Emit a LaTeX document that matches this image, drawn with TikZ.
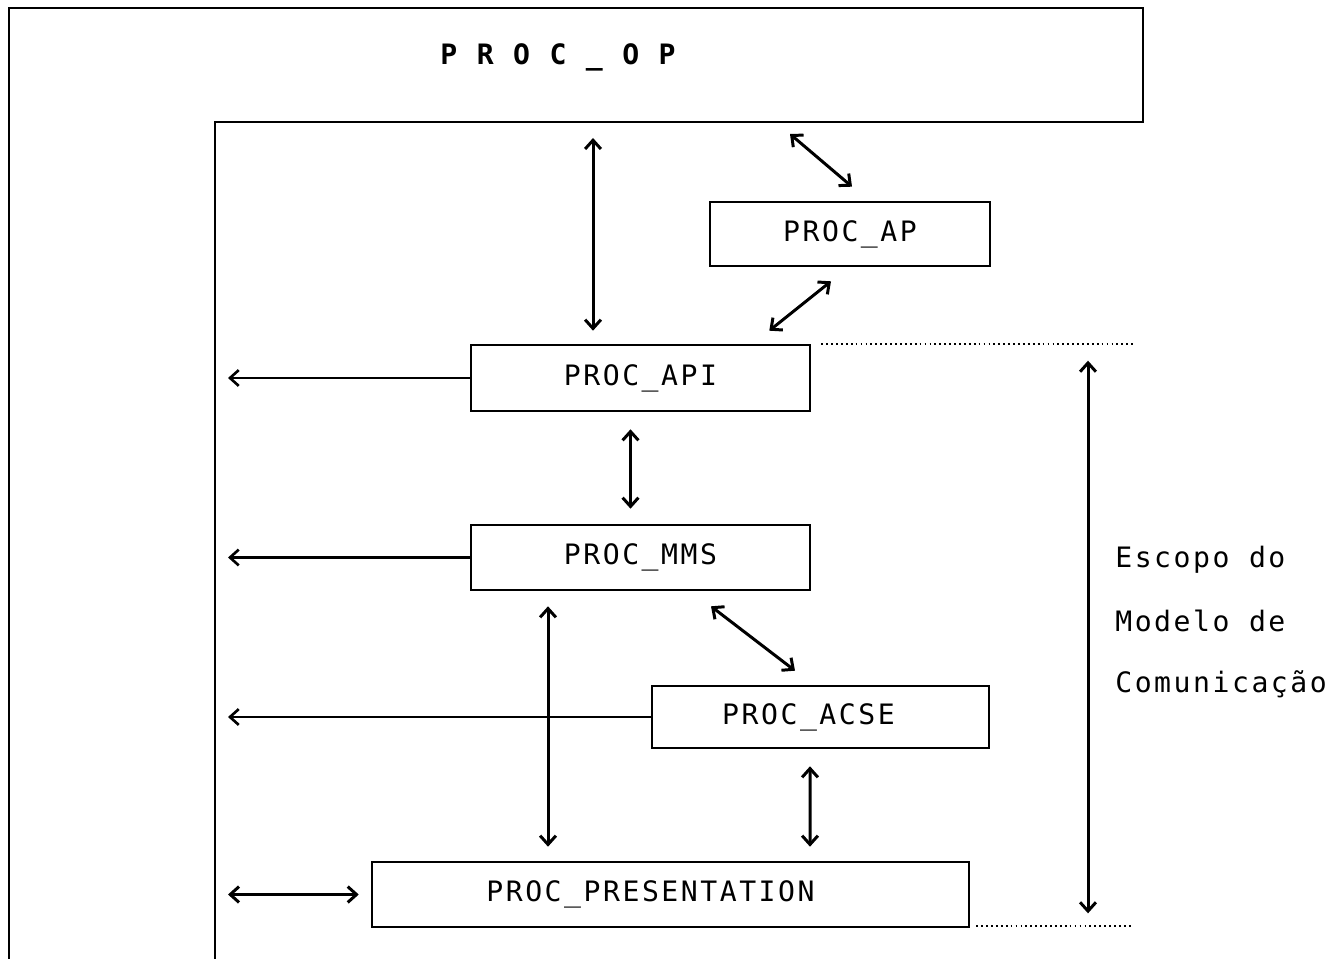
\documentclass[tikz,border=0pt]{standalone}
\usepackage{fontspec}
\newfontfamily\dmfont[LetterSpace=9]{DejaVu Sans Mono}
\usetikzlibrary{arrows.meta,calc}
\begin{document}
\begin{tikzpicture}[x=0.02cm,y=-0.02cm,
  >={Straight Barb[length=5pt,width=9pt]},
  box/.style={draw,line width=1.5pt,inner sep=0pt,font=\dmfont\fontsize{16}{19}\selectfont},
  conn/.style={line width=1.7pt,<->},
  oneway/.style={line width=1.5pt,->},
  scopeline/.style={dash pattern=on 1pt off 1.8pt,line width=1pt},
  lbl/.style={font=\dmfont\fontsize{16}{19}\selectfont,anchor=west,inner sep=0pt},
  frame/.style={line width=1.6pt}]
\fill[white] (0,0) rectangle (1335,959);
\useasboundingbox (0,0) rectangle (1335,959);

% frame of PROC_OP
\coordinate (bandL) at (215,122);
\coordinate (bandR) at (1143,122);
\draw[frame] (9,959) -- (9,8) -- (1143,8) -- (bandR) -- (bandL) -- (215,959);
\node[font=\dmfont\bfseries\fontsize{16}{19}\selectfont,inner sep=0pt] (op) at (558,57) {P R O C \_ O P};

% process boxes
\node[box,minimum width=5.6cm,minimum height=1.28cm] (ap) at (850,234) {PROC\_AP};
\node[box,minimum width=6.78cm,minimum height=1.32cm] (api) at (640.5,378) {PROC\_API};
\node[box,minimum width=6.78cm,minimum height=1.3cm] (mms) at (640.5,557.5) {PROC\_MMS};
\node[box,minimum width=6.74cm,minimum height=1.24cm] (acse) at (820.5,717) {\hspace*{-0.48cm}PROC\_ACSE};
\node[box,minimum width=11.94cm,minimum height=1.3cm] (pres) at (670.5,894.5) {\hspace*{-0.8cm}PROC\_PRESENTATION};

% connectors between processes
\draw[conn] ($(bandL)+(378,16)$) -- ($(api.north)+(-47.5,-13)$);
\draw[conn] ($(bandL)+(575,12)$) -- ($(ap.north)+(2,-14)$);
\draw[conn] ($(ap.south)+(-19,14)$) -- ($(api.north east)+(-42,-13)$);
\draw[conn] ($(api.south)+(-10,17)$) -- ($(mms.north)+(-10,-15)$);
\draw[conn] ($(mms.south)+(-92.5,15)$) -- ($(pres.north)+(-122.5,-14)$);
\draw[conn] ($(mms.south)+(70.5,15)$) -- ($(acse.north)+(-25.5,-14)$);
\draw[conn] ($(acse.south)+(-10.5,17)$) -- ($(pres.north)+(139.5,-14)$);

% connectors to the left
\draw[oneway] (api.west) -- ($(api.west -| bandL)+(13,0)$);
\draw[oneway] (mms.west) -- ($(mms.west -| bandL)+(13,0)$);
\draw[oneway] (acse.west) -- ($(acse.west -| bandL)+(13,0)$);
\draw[conn] ($(pres.west -| bandL)+(13,0)$) -- ($(pres.west)+(-12,0)$);

% scope of the communication model
\draw[scopeline] ($(api.north east)+(10,0)$) -- ($(api.north east -| bandR)+(-10,0)$);
\draw[scopeline] ($(pres.south east)+(6,-2)$) -- ($(pres.south east -| bandR)+(-10,-2)$);
\draw[conn] ($(api.north east -| bandR)+(-55,17)$) -- ($(pres.south east -| bandR)+(-55,-15)$);

\node[lbl] (t1) at (1115,560) {Escopo do};
\node[lbl] (t2) at (1115,621) {Modelo de};
\node[lbl] (t3) at (1115,684) {Comunicação};
\end{tikzpicture}
\end{document}
